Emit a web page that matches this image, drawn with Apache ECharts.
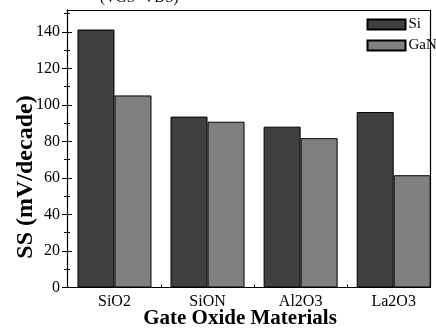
<!DOCTYPE html>
<html><head><meta charset="utf-8">
<script src="https://cdn.jsdelivr.net/npm/echarts@6/dist/echarts.min.js"></script>
<style>html,body{margin:0;padding:0;background:#fff}#c{width:436px;height:331px}</style>
</head><body><div id="c"></div>
<script>
const categories = ['SiO2', 'SiON', 'Al2O3', 'La2O3'];
const siValues = [141.3, 93.6, 88.1, 96.1];
const ganValues = [105.2, 90.8, 81.8, 61.5];
const yMajorTicks = [0, 20, 40, 60, 80, 100, 120, 140];
const yMinorTicks = [10, 30, 50, 70, 90, 110, 130, 150];
const seriesNames = ['Si', 'GaN'];

const FONT = 'Liberation Serif';
const pos = categories.map((c, i) => i + 1);
const chart = echarts.init(document.getElementById('c'), null, {renderer: 'canvas'});
const grid = {left: 67, right: 6, top: 10, bottom: 43.5};
const yBase = {type: 'value', min: 0, max: 152, gridIndex: 0, splitLine: {show: false}, axisLabel: {show: false}, axisLine: {show: false}};
chart.setOption({
  animation: false,
  backgroundColor: '#fff',
  grid: grid,
  legend: {
    left: 366.5, top: 17, orient: 'vertical', itemWidth: 38, itemHeight: 10, itemGap: 6, padding: 0,
    icon: 'rect',
    textStyle: {fontFamily: FONT, fontSize: 15, color: '#000', padding: [0, 0, 0, -2]},
    data: seriesNames
  },
  xAxis: [
    {type: 'value', min: 0.49, max: 4.39, splitLine: {show: false},
     axisLine: {show: true, onZero: false, lineStyle: {color: '#000', width: 1.2}},
     axisTick: {show: true, inside: true, length: 3, customValues: [1.5, 2.5, 3.5], lineStyle: {color: '#000'}},
     axisLabel: {customValues: pos, formatter: v => categories[Math.round(v) - 1], fontFamily: FONT, fontSize: 16, color: '#000', margin: 6}},
    {type: 'value', position: 'top', min: 0.49, max: 4.39, splitLine: {show: false},
     axisLine: {show: true, onZero: false, lineStyle: {color: '#000', width: 1.2}},
     axisTick: {show: false}, axisLabel: {show: false}}
  ],
  yAxis: [
    Object.assign({}, yBase, {position: 'left',
      axisLine: {show: true, onZero: false, lineStyle: {color: '#000', width: 1.2}},
      axisTick: {show: true, length: 5, customValues: yMajorTicks, lineStyle: {color: '#000'}},
      axisLabel: {show: true, customValues: yMajorTicks, fontFamily: FONT, fontSize: 16, color: '#000', margin: 7}}),
    Object.assign({}, yBase, {position: 'left',
      axisTick: {show: true, inside: true, length: 5, customValues: yMajorTicks, lineStyle: {color: '#000'}}}),
    Object.assign({}, yBase, {position: 'left',
      axisTick: {show: true, length: 3, customValues: yMinorTicks, lineStyle: {color: '#000'}}}),
    Object.assign({}, yBase, {position: 'left',
      axisTick: {show: true, inside: true, length: 3, customValues: yMinorTicks, lineStyle: {color: '#000'}}}),
    Object.assign({}, yBase, {position: 'right',
      axisLine: {show: true, onZero: false, lineStyle: {color: '#000', width: 1.2}},
      axisTick: {show: false}})
  ],
  series: [
    {name: seriesNames[0], type: 'bar', barWidth: 37, barGap: '0%', xAxisIndex: 0, yAxisIndex: 0,
     itemStyle: {color: '#404040', borderColor: '#000', borderWidth: 1},
     data: siValues.map((v, i) => [pos[i], v])},
    {name: seriesNames[1], type: 'bar', barWidth: 37, barGap: '0%', xAxisIndex: 0, yAxisIndex: 0,
     itemStyle: {color: '#808080', borderColor: '#000', borderWidth: 1},
     data: ganValues.map((v, i) => [pos[i], v])}
  ],
  graphic: [
    {type: 'text', x: 240, y: 319,
     style: {text: 'Gate Oxide Materials', fontFamily: FONT, fontWeight: 'bold', fontSize: 21, fill: '#000', align: 'center', verticalAlign: 'middle'}},
    {type: 'text', x: 26, y: 177, rotation: Math.PI / 2,
     style: {text: 'SS (mV/decade)', fontFamily: FONT, fontWeight: 'bold', fontSize: 24, fill: '#000', align: 'center', verticalAlign: 'middle'}},
    {type: 'text', x: 100, y: 6,
     style: {text: '(VGS=VDS)', fontFamily: FONT, fontSize: 15, fill: '#000', align: 'left', verticalAlign: 'bottom'}}
  ]
});
</script></body></html>
